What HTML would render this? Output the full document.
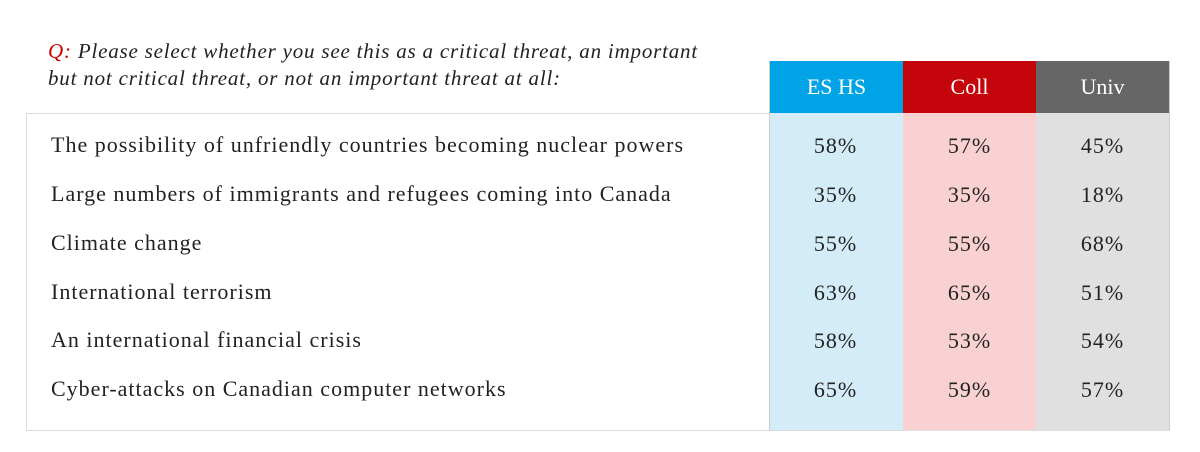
<!DOCTYPE html>
<html><head><style>
body{margin:0;width:1200px;height:452px;background:#fff;font-family:"Liberation Serif",serif;position:relative;overflow:hidden}
.q{position:absolute;left:48px;top:38px;font-style:italic;font-size:21px;letter-spacing:0.8px;line-height:27px;color:#222}
.box{position:absolute;left:26px;top:113px;width:1143px;height:316px;border:1px solid #ddd;border-right:none}
.col{position:absolute;top:61px;height:369px;width:133px}
.h{height:52px;color:#fff;font-size:22px;text-align:center;line-height:52px}
.v{position:absolute;width:133px;text-align:center;font-size:22px;letter-spacing:1px;color:#222}
.l{position:absolute;left:51px;font-size:22px;letter-spacing:1px;color:#222}
</style></head><body>
<div class="q"><span style="color:#c00">Q:</span> Please select whether you see this as a critical threat, an important<br>but not critical threat, or not an important threat at all:</div>
<div class="box"></div>
<div class="col" style="left:769px;background:#d4ecf8;border-left:1px solid #ccc"><div class="h" style="background:#00a3e6">ES HS</div></div>
<div class="col" style="left:903px;background:#f9d1d3"><div class="h" style="background:#c5050c">Coll</div></div>
<div class="col" style="left:1036px;background:#e0e0e0;border-right:1px solid #ccc"><div class="h" style="background:#666">Univ</div></div>
<div class="l" style="top:132px">The possibility of unfriendly countries becoming nuclear powers</div>
<div class="l" style="top:181px">Large numbers of immigrants and refugees coming into Canada</div>
<div class="l" style="top:230px">Climate change</div>
<div class="l" style="top:279px">International terrorism</div>
<div class="l" style="top:327px">An international financial crisis</div>
<div class="l" style="top:376px">Cyber-attacks on Canadian computer networks</div>
<div class="v" style="left:769px;top:133px">58%</div><div class="v" style="left:903px;top:133px">57%</div><div class="v" style="left:1036px;top:133px">45%</div>
<div class="v" style="left:769px;top:182px">35%</div><div class="v" style="left:903px;top:182px">35%</div><div class="v" style="left:1036px;top:182px">18%</div>
<div class="v" style="left:769px;top:231px">55%</div><div class="v" style="left:903px;top:231px">55%</div><div class="v" style="left:1036px;top:231px">68%</div>
<div class="v" style="left:769px;top:280px">63%</div><div class="v" style="left:903px;top:280px">65%</div><div class="v" style="left:1036px;top:280px">51%</div>
<div class="v" style="left:769px;top:328px">58%</div><div class="v" style="left:903px;top:328px">53%</div><div class="v" style="left:1036px;top:328px">54%</div>
<div class="v" style="left:769px;top:377px">65%</div><div class="v" style="left:903px;top:377px">59%</div><div class="v" style="left:1036px;top:377px">57%</div>
</body></html>
